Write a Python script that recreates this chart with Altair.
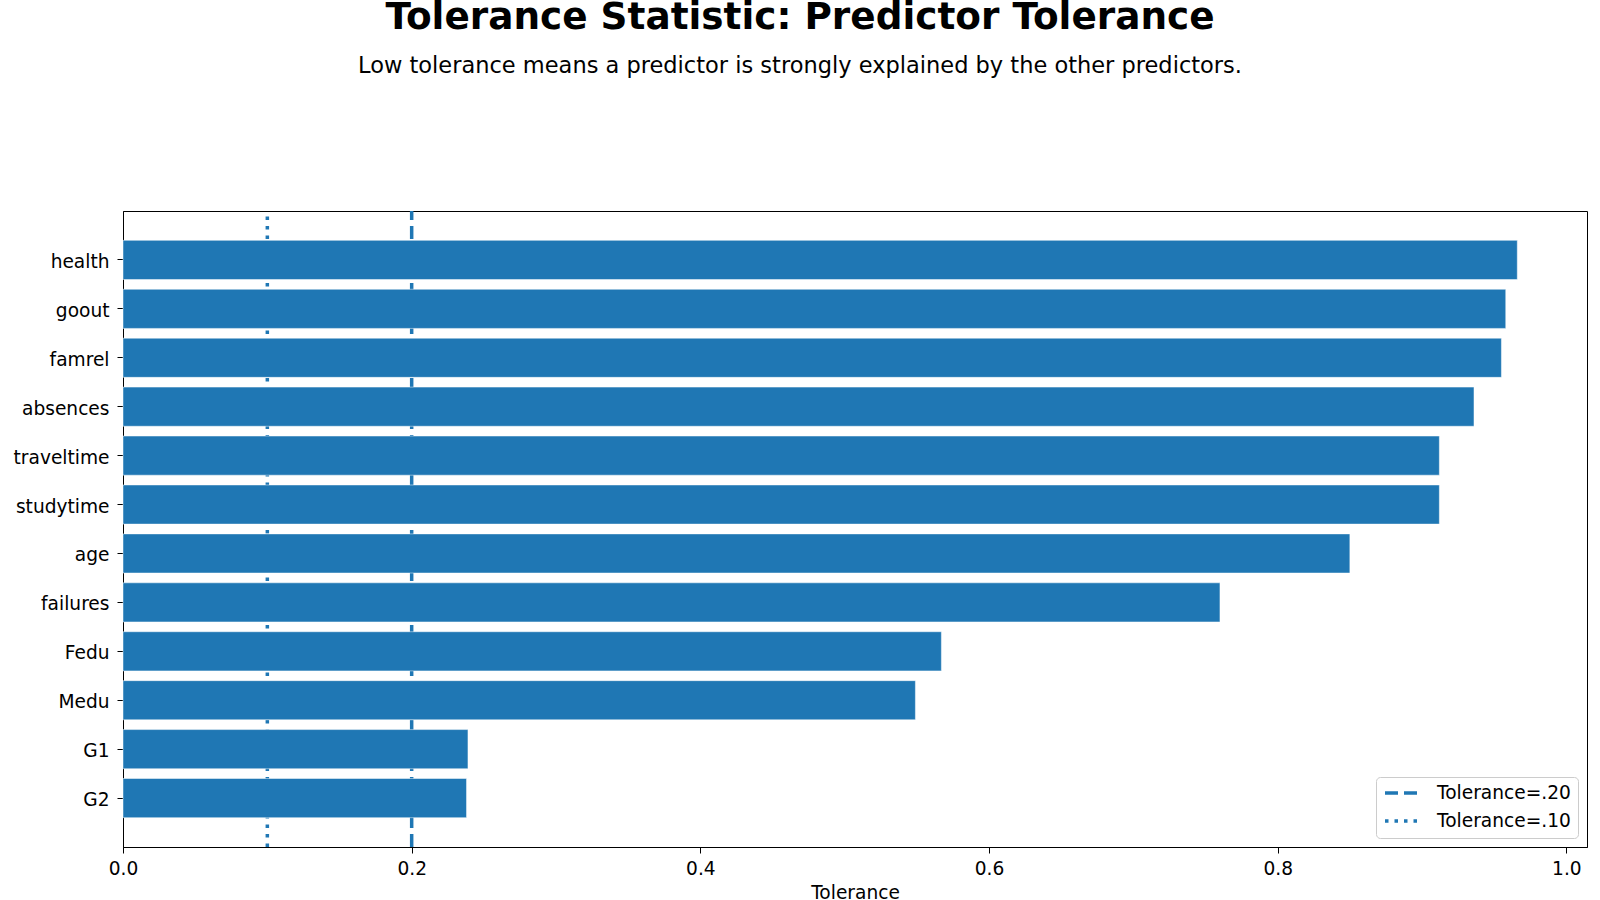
import altair as alt
import pandas as pd

# Tolerance (1 - R^2) of each predictor, top to bottom
predictors = ["health", "goout", "famrel", "absences", "traveltime", "studytime",
              "age", "failures", "Fedu", "Medu", "G1", "G2"]
tolerance = [0.966, 0.958, 0.955, 0.936, 0.912, 0.912,
             0.850, 0.760, 0.567, 0.549, 0.239, 0.238]

# Reference cut-offs drawn as vertical rules
cutoff_values = [0.20, 0.10]
cutoff_labels = ["Tolerance=.20", "Tolerance=.10"]

BLUE = "#1f77b4"
FONT = "DejaVu Sans"
TEXT_SIZE = 18.6

bars_df = pd.DataFrame({"predictor": predictors, "tolerance": tolerance})
cut_df = pd.DataFrame({"value": cutoff_values, "label": cutoff_labels})

x_scale = alt.Scale(domain=[0, 1.0143], nice=False, zero=True)

rules = alt.Chart(cut_df).mark_rule(color=BLUE, strokeWidth=3.5).encode(
    x=alt.X("value:Q", scale=x_scale),
    y=alt.value("height"),
    y2=alt.value(0),
    strokeDash=alt.StrokeDash(
        "label:N",
        scale=alt.Scale(domain=cutoff_labels, range=[[13, 6], [3.5, 6]]),
        legend=alt.Legend(
            title=None,
            orient="bottom-right",
            offset=9,
            symbolType="stroke",
            symbolSize=1156,
            symbolStrokeWidth=3.5,
            symbolStrokeColor=BLUE,
            clipHeight=18,
            labelFontSize=TEXT_SIZE,
            labelFont=FONT,
            labelColor="#000000",
            labelOffset=16,
            rowPadding=9,
            padding=7,
            strokeColor="#cccccc",
            fillColor="#ffffff",
            cornerRadius=4,
        ),
    ),
)

bars = alt.Chart(bars_df).mark_bar(
    color=BLUE, stroke="#ffffff", strokeWidth=0.8, strokeOpacity=0.6
).encode(
    x=alt.X(
        "tolerance:Q",
        scale=x_scale,
        axis=alt.Axis(
            title="Tolerance",
            values=[0, 0.2, 0.4, 0.6, 0.8, 1.0],
            format=".1f",
            grid=False,
            tickSize=6,
            labelPadding=6,
            labelFlush=False,
            titlePadding=6,
        ),
    ),
    y=alt.Y(
        "predictor:N",
        sort=predictors,
        scale=alt.Scale(paddingInner=0.2, paddingOuter=0.6),
        axis=alt.Axis(title=None, tickSize=6, labelPadding=8, labelOffset=2),
    ),
)

chart = (
    alt.layer(rules, bars)
    .properties(
        width=1464,
        height=636,
        autosize=alt.AutoSizeParams(type="none"),
        padding={"left": 123, "top": 211, "right": 13, "bottom": 53},
        title=alt.TitleParams(
            text="Tolerance Statistic: Predictor Tolerance",
            subtitle="Low tolerance means a predictor is strongly explained by the other predictors.",
            anchor="middle",
            dx=-55,
            offset=132,
            font=FONT,
            fontSize=37.4,
            fontWeight="bold",
            color="#000000",
            subtitleFont=FONT,
            subtitleFontSize=22.5,
            subtitleColor="#000000",
            subtitlePadding=18,
        ),
    )
    .configure_view(stroke="#000000", strokeWidth=1)
    .configure_axis(
        labelFont=FONT,
        labelFontSize=TEXT_SIZE,
        labelColor="#000000",
        titleFont=FONT,
        titleFontSize=TEXT_SIZE,
        titleFontWeight="normal",
        titleColor="#000000",
        domainColor="#000000",
        domainWidth=1,
        tickColor="#000000",
        tickWidth=1,
    )
)

chart.save("out.html", embed_options={"renderer": "svg", "actions": False})
